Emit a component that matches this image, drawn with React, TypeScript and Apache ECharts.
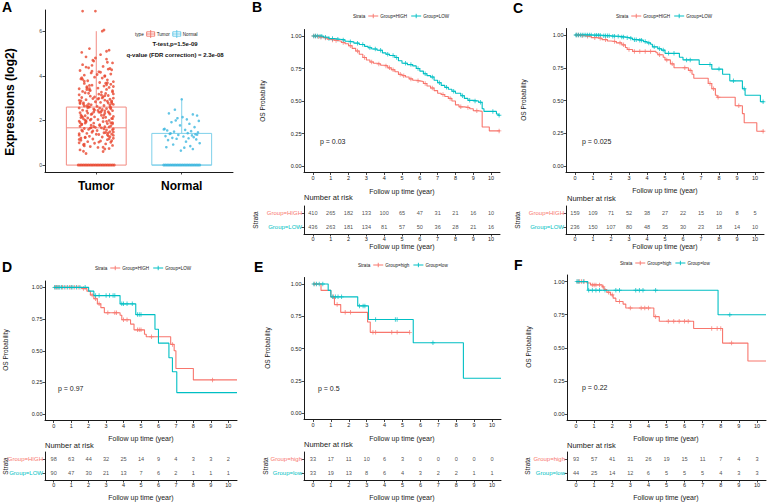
import React, { useEffect, useRef } from "react";
import * as echarts from "echarts";

const FONT = '"Liberation Sans", Arial, sans-serif';
const RED = "#F8766D";
const TEAL = "#00BFC4";
const AXIS = "#1a1a1a";
const PLUS = "path://M4,0H6V10H4Z M0,4H10V6H0Z";

// ---------------- Panel A data ----------------
const boxCategories = ["Tumor", "Normal"];
// min, q1, median, q3, upper whisker
const tumorBox = [0, 0, 1.67, 2.6, 6.0];
const normalBox = [0, 0, 0, 1.42, 2.95];
const exprTicks = [0, 2, 4, 6];

const tumorExpr = [
  0.52, 0.61, 0.68, 0.74, 0.79, 0.83, 0.88, 0.91, 0.95, 0.98, 1.02, 1.05, 1.08, 1.11, 1.14, 1.17, 1.2, 1.23, 1.26, 1.29,
  1.31, 1.34, 1.37, 1.39, 1.42, 1.45, 1.47, 1.5, 1.52, 1.55, 1.57, 1.6, 1.62, 1.64, 1.67, 1.69, 1.72, 1.74, 1.76, 1.79,
  1.81, 1.83, 1.86, 1.88, 1.9, 1.93, 1.95, 1.97, 2.0, 2.02, 2.04, 2.07, 2.09, 2.11, 2.14, 2.16, 2.18, 2.21, 2.23, 2.25,
  2.28, 2.3, 2.32, 2.35, 2.37, 2.39, 2.42, 2.44, 2.46, 2.49, 2.51, 2.53, 2.56, 2.58, 2.6, 2.63, 2.65, 2.67, 2.7, 2.72,
  2.74, 2.77, 2.79, 2.81, 2.84, 2.86, 2.88, 2.91, 2.93, 2.95, 2.98, 3.0, 3.03, 3.06, 3.09, 3.12, 3.15, 3.18, 3.21, 3.24,
  3.27, 3.3, 3.33, 3.36, 3.39, 3.42, 3.45, 3.48, 3.51, 3.54, 3.58, 3.62, 3.66, 3.7, 3.74, 3.78, 3.82, 3.86, 3.9, 3.94,
  3.98, 4.03, 4.08, 4.13, 4.18, 4.24, 4.3, 4.36, 4.42, 4.5, 4.58, 4.66, 4.75, 4.85, 4.95, 5.05, 5.15, 5.22, 6.0, 6.05,
  1.15, 1.48, 1.73, 1.96, 2.19, 2.41, 2.62, 2.83, 1.38, 1.88, 2.34, 2.76, 3.11, 1.58, 2.06, 2.55, 0.86, 1.27, 3.46, 3.69,
  1.03, 1.21, 1.44, 1.66, 1.85, 2.01, 2.24, 2.47, 2.69, 2.9, 3.14, 3.38, 3.6, 3.84, 4.06, 4.27, 4.47, 0.72, 0.94, 1.33,
  1.53, 1.71, 1.91, 2.12, 2.33, 2.52, 2.73, 2.96, 3.19, 3.43, 3.67, 3.91, 4.16, 4.39, 4.61, 4.8, 1.09, 1.41, 1.62, 2.27,
  2.08, 1.98, 1.77, 1.56, 1.36, 2.38, 2.59, 2.8, 3.01, 3.22, 3.52, 3.76, 4.0, 4.21, 1.18, 2.15, 2.45, 2.66, 2.87, 3.34,
  1.25, 1.46, 1.68, 1.9, 2.13, 2.36, 2.57, 2.78, 3.05, 3.28, 0.62, 0.8, 1.0, 5.1, 4.7, 4.33, 3.57, 2.99, 1.82, 2.43,
  6.9, 6.9,
];
const tumorJitter = [
  -0.12, 0.08, -0.19, 0.15, 0.02, -0.07, 0.19, -0.15, 0.11, -0.02, 0.17, -0.1, 0.05, -0.18, 0.13, -0.04, 0.2, -0.13, 0.07, -0.08,
  0.14, -0.2, 0.03, 0.18, -0.11, 0.09, -0.05, 0.16, -0.16, 0.01, 0.12, -0.09, 0.2, -0.14, 0.06, -0.01, 0.1, -0.19, 0.17, -0.06,
  0.04, -0.17, 0.13, -0.03, 0.19, -0.12, 0.08, -0.2, 0.15, -0.07, 0.02, -0.15, 0.18, -0.1, 0.11, -0.02, 0.2, -0.13, 0.06, -0.18,
  0.16, -0.05, 0.1, -0.19, 0.03, 0.14, -0.11, 0.19, -0.16, 0.07, -0.03, 0.12, -0.2, 0.17, -0.08, 0.01, -0.14, 0.09, -0.06, 0.2,
  -0.09, 0.18, -0.15, 0.05, -0.01, 0.13, -0.18, 0.1, -0.12, 0.16, -0.04, 0.2, -0.17, 0.08, -0.07, 0.14, -0.2, 0.03, 0.11, -0.13,
  0.06, -0.16, 0.19, -0.08, 0.12, -0.2, 0.02, 0.15, -0.11, 0.09, -0.05, 0.17, -0.14, 0.04, 0.2, -0.1, 0.13, -0.18, 0.07, -0.02,
  0.1, -0.14, 0.17, -0.06, 0.03, -0.19, 0.14, -0.09, 0.08, -0.16, 0.19, -0.03, 0.12, -0.12, 0.05, -0.17, 0.15, -0.08, 0.07, 0.09,
  -0.2, 0.2, -0.03, 0.12, -0.17, 0.06, -0.09, 0.18, 0.0, -0.13, 0.15, -0.19, 0.1, 0.19, -0.06, 0.04, -0.14, 0.16, -0.11, 0.13,
  0.03, -0.18, 0.14, -0.07, 0.19, -0.13, 0.09, -0.02, 0.16, -0.2, 0.06, -0.11, 0.12, -0.16, 0.01, 0.18, -0.05, 0.1, -0.14, 0.2,
  -0.04, 0.15, -0.19, 0.08, -0.1, 0.17, -0.15, 0.02, 0.2, -0.08, 0.11, -0.17, 0.05, -0.12, 0.13, -0.01, 0.18, -0.2, 0.09, -0.06,
  0.19, -0.12, 0.04, -0.17, 0.13, -0.03, 0.16, -0.19, 0.07, -0.09, 0.2, -0.14, 0.1, -0.05, 0.15, -0.16, 0.02, -0.11, 0.18, -0.07,
  -0.13, 0.11, -0.06, 0.17, -0.18, 0.05, -0.1, 0.14, -0.02, 0.19, -0.15, 0.08, -0.2, 0.12, -0.04, 0.16, -0.08, 0.03, -0.17, 0.1,
  -0.16, -0.01,
];
const tumorZeroJitter = [
  -0.21, -0.19, -0.17, -0.15, -0.13, -0.11, -0.09, -0.07, -0.05, -0.03, -0.01, 0.01, 0.03, 0.05, 0.07, 0.09, 0.11, 0.13, 0.15,
  0.17, 0.19, 0.21,
];
const normalExpr = [
  2.95, 2.48, 2.32, 2.27, 2.22, 2.15, 2.1, 2.05, 1.98, 1.92, 1.85, 1.78, 1.7, 1.62, 1.58, 1.55, 1.52, 1.5, 1.47, 1.43,
  1.4, 1.38, 1.35, 1.33, 1.3, 1.28, 1.25, 1.22, 1.2, 1.18, 1.15, 1.12, 1.05, 0.98, 0.92, 0.85, 0.8, 0.78, 0.72, 0.65,
  1.6, 1.42, 1.36, 2.0,
];
const normalJitter = [
  0.0, -0.08, -0.15, 0.13, 0.18, 0.01, -0.05, 0.06, 0.2, -0.12, 0.09, -0.02, 0.15, -0.2, 0.04, -0.17, 0.11, -0.09, 0.19, 0.07,
  -0.14, 0.16, -0.04, 0.12, -0.19, 0.02, 0.14, -0.11, 0.08, -0.06, 0.17, -0.16, 0.05, 0.21, -0.1, 0.1, -0.18, 0.03, 0.13, -0.01,
  -0.21, -0.13, 0.18, -0.07,
];
const normalZeroJitter = [
  -0.21, -0.19, -0.17, -0.15, -0.13, -0.11, -0.09, -0.07, -0.05, -0.03, -0.01, 0.01, 0.03, 0.05, 0.07, 0.09, 0.11, 0.13, 0.15,
  0.17, 0.19, 0.21,
];

// ---------------- KM panels data ----------------
const yearTicks = [0, 1, 2, 3, 4, 5, 6, 7, 8, 9, 10];
const probTicks = [0, 0.25, 0.5, 0.75, 1];

// Panel B
const bHigh = [[0, 1], [0.2, 0.995], [0.4, 0.99], [0.6, 0.985], [0.8, 0.975], [1.0, 0.97], [1.2, 0.965], [1.4, 0.96], [1.6, 0.95], [1.8, 0.94], [2.0, 0.925], [2.2, 0.905], [2.4, 0.885], [2.6, 0.86], [2.8, 0.835], [3.0, 0.815], [3.2, 0.8], [3.4, 0.79], [3.6, 0.785], [3.8, 0.775], [4.0, 0.77], [4.2, 0.755], [4.4, 0.74], [4.6, 0.725], [4.8, 0.705], [5.0, 0.695], [5.2, 0.685], [5.4, 0.67], [5.6, 0.66], [5.8, 0.655], [6.0, 0.65], [6.2, 0.635], [6.4, 0.615], [6.6, 0.6], [6.8, 0.58], [7.0, 0.56], [7.2, 0.55], [7.4, 0.535], [7.6, 0.52], [7.8, 0.5], [8.0, 0.47], [8.2, 0.455], [8.5, 0.45], [8.8, 0.44], [9.0, 0.425], [9.3, 0.42], [9.5, 0.3], [9.9, 0.27], [10.5, 0.27]];
const bLow = [[0, 1], [0.3, 0.998], [0.6, 0.99], [0.9, 0.98], [1.2, 0.975], [1.5, 0.97], [1.8, 0.96], [2.0, 0.955], [2.3, 0.945], [2.6, 0.935], [2.9, 0.92], [3.1, 0.91], [3.3, 0.9], [3.6, 0.89], [3.9, 0.87], [4.1, 0.86], [4.3, 0.85], [4.6, 0.835], [4.8, 0.81], [5.0, 0.79], [5.3, 0.78], [5.6, 0.77], [5.8, 0.75], [6.0, 0.73], [6.2, 0.71], [6.4, 0.695], [6.6, 0.685], [6.8, 0.66], [7.0, 0.64], [7.2, 0.62], [7.4, 0.605], [7.6, 0.59], [7.8, 0.575], [8.0, 0.56], [8.3, 0.54], [8.5, 0.52], [8.7, 0.505], [9.0, 0.5], [9.3, 0.49], [9.5, 0.44], [9.6, 0.42], [10.3, 0.4], [10.4, 0.39], [10.5, 0.39]];
const bHighCensor = [0.05, 0.15, 0.3, 0.45, 0.7, 1.1, 1.3, 1.7, 2.1, 2.5, 2.9, 3.3, 3.7, 4.1, 4.3, 4.5, 4.9, 5.1, 5.5, 5.9, 6.3, 6.7, 7.3, 7.7, 8.3, 8.7, 9.2, 10.45];
const bLowCensor = [0.05, 0.15, 0.25, 0.4, 0.5, 0.7, 0.9, 1.1, 1.4, 1.7, 2.1, 2.5, 2.8, 3.2, 3.5, 3.8, 4.2, 4.5, 4.7, 5.2, 5.5, 5.9, 6.3, 6.7, 7.1, 7.5, 7.9, 8.4, 8.8, 9.1, 9.4, 10.1, 10.45];
const bRiskHigh = [410, 265, 182, 133, 100, 65, 47, 31, 21, 16, 10];
const bRiskLow = [436, 263, 181, 134, 81, 57, 50, 36, 28, 21, 16];

// Panel C
const cHigh = [[0, 1], [0.3, 0.995], [0.6, 0.99], [0.9, 0.98], [1.2, 0.975], [1.5, 0.965], [1.8, 0.955], [2.0, 0.95], [2.3, 0.94], [2.6, 0.925], [2.8, 0.905], [2.9, 0.89], [3.2, 0.875], [4.5, 0.865], [4.6, 0.85], [4.9, 0.83], [5.0, 0.81], [5.3, 0.78], [5.5, 0.75], [6.3, 0.73], [6.5, 0.7], [6.6, 0.67], [7.4, 0.63], [7.6, 0.59], [7.8, 0.54], [7.9, 0.525], [8.9, 0.46], [9.3, 0.4], [9.4, 0.33], [10.1, 0.265], [10.5, 0.265]];
const cLow = [[0, 1], [1.0, 0.998], [1.5, 0.995], [2.0, 0.99], [2.5, 0.985], [2.8, 0.98], [3.0, 0.975], [3.2, 0.965], [3.5, 0.96], [3.8, 0.95], [4.0, 0.94], [4.2, 0.93], [4.3, 0.91], [4.6, 0.895], [4.8, 0.885], [5.0, 0.86], [5.8, 0.83], [6.0, 0.81], [6.9, 0.775], [7.6, 0.74], [8.2, 0.7], [8.6, 0.65], [9.3, 0.59], [9.45, 0.54], [10.3, 0.49], [10.5, 0.49]];
const cHighCensor = [0.1, 0.2, 0.4, 0.7, 1.1, 1.4, 1.7, 2.2, 2.5, 2.7, 3.0, 3.3, 3.6, 3.9, 4.2, 4.7, 5.1, 5.4, 6.1, 6.4, 7.5, 7.7, 7.95, 9.1, 10.45];
const cLowCensor = [0.05, 0.1, 0.2, 0.3, 0.4, 0.5, 0.6, 0.7, 0.8, 0.9, 1.1, 1.2, 1.3, 1.4, 1.6, 1.7, 1.8, 1.9, 2.1, 2.2, 2.4, 2.6, 2.7, 2.9, 3.1, 3.3, 3.4, 3.6, 3.7, 3.9, 4.1, 4.4, 4.7, 4.9, 5.2, 5.5, 6.2, 6.4, 7.5, 8.0, 8.8, 9.4, 10.45];
const cRiskHigh = [159, 109, 71, 52, 38, 27, 22, 15, 10, 8, 5];
const cRiskLow = [236, 150, 107, 80, 48, 35, 30, 23, 18, 14, 10];

// Panel D
const dHigh = [[0, 1], [1.6, 0.99], [1.9, 0.97], [2.1, 0.94], [2.3, 0.91], [2.5, 0.87], [2.7, 0.84], [2.9, 0.8], [3.8, 0.78], [3.9, 0.745], [4.4, 0.71], [4.6, 0.665], [5.2, 0.63], [5.3, 0.61], [6.7, 0.55], [6.9, 0.5], [7.0, 0.36], [8.0, 0.27], [10.5, 0.27]];
const dLow = [[0, 1], [2.0, 0.97], [2.3, 0.935], [3.8, 0.87], [4.7, 0.785], [5.8, 0.67], [6.0, 0.56], [6.6, 0.445], [6.8, 0.335], [7.05, 0.17], [10.5, 0.17]];
const dHighCensor = [0.1, 0.2, 0.3, 0.5, 0.7, 0.9, 1.0, 1.2, 1.4, 1.7, 2.2, 2.4, 2.6, 3.1, 3.5, 3.6, 4.0, 4.2, 4.8, 4.9, 5.0, 5.6, 6.8, 9.1];
const dLowCensor = [0.05, 0.15, 0.25, 0.35, 0.45, 0.6, 0.8, 1.0, 1.1, 1.3, 1.5, 1.8, 2.4, 2.6, 3.0, 3.2, 3.4, 3.5, 3.9, 4.0, 4.2, 4.5, 4.8, 4.9, 5.0];
const dRiskHigh = [98, 63, 44, 32, 25, 14, 9, 4, 3, 3, 2];
const dRiskLow = [90, 47, 30, 21, 13, 7, 6, 2, 1, 1, 1];

// Panel E
const eHigh = [[0, 1], [0.45, 0.95], [1.0, 0.9], [1.2, 0.84], [1.55, 0.78], [3.05, 0.705], [3.2, 0.625], [5.4, 0.625]];
const eLow = [[0, 1], [0.85, 0.95], [1.0, 0.9], [2.5, 0.83], [3.1, 0.725], [5.6, 0.545], [8.4, 0.27], [10.5, 0.27]];
const eHighCensor = [0.1, 1.15, 1.35, 1.8, 2.1, 3.35, 3.5, 4.4, 4.7, 5.4];
const eLowCensor = [0.05, 0.2, 0.35, 0.55, 1.1, 1.25, 1.4, 1.6, 2.6, 2.8, 2.9, 3.5, 4.6, 4.7, 6.7];
const eRiskHigh = [33, 17, 11, 10, 6, 3, 0, 0, 0, 0, 0];
const eRiskLow = [33, 19, 13, 8, 6, 4, 3, 2, 2, 1, 1];

// Panel F
const fHigh = [[0, 1], [0.6, 0.99], [0.8, 0.975], [1.45, 0.96], [1.55, 0.94], [1.7, 0.92], [1.9, 0.9], [2.05, 0.875], [2.2, 0.85], [2.6, 0.83], [2.75, 0.8], [4.3, 0.735], [4.6, 0.7], [6.5, 0.645], [8.1, 0.535], [9.5, 0.4], [10.5, 0.4]];
const fLow = [[0, 1], [0.65, 0.935], [7.85, 0.75], [10.5, 0.75]];
const fHighCensor = [0.1, 0.2, 0.3, 0.45, 0.9, 1.0, 1.1, 1.3, 1.5, 1.8, 2.0, 2.4, 3.0, 3.6, 3.8, 4.0, 4.4, 5.1, 5.4, 5.7, 6.0, 6.2, 7.5, 7.8, 8.0, 8.6];
const fLowCensor = [0.05, 0.15, 0.4, 0.7, 0.9, 1.1, 1.3, 1.6, 2.2, 2.4, 3.3, 3.5, 3.7, 4.4, 8.5];
const fRiskHigh = [93, 57, 41, 31, 26, 19, 15, 11, 7, 4, 3];
const fRiskLow = [44, 25, 14, 12, 6, 5, 5, 5, 4, 3, 3];

// ---------------- layout (positions only) ----------------
const panels = [
  {
    letter: "B", letterPos: [252, 7], names: ["Group=HIGH", "Group=LOW"], p: "p = 0.03",
    high: bHigh, low: bLow, hc: bHighCensor, lc: bLowCensor, rh: bRiskHigh, rl: bRiskLow,
    km: [304, 29.5, 196, 143], tb: [304, 206, 196, 28],
    ylab: [262, 101], xlab: [402, 191], nar: [304, 197], strata: [255, 220], txlab: [402, 246], legend: [353, 16], pPos: [320, 141],
  },
  {
    letter: "C", letterPos: [513, 8], names: ["Group=HIGH", "Group=LOW"], p: "p = 0.025",
    high: cHigh, low: cLow, hc: cHighCensor, lc: cLowCensor, rh: cRiskHigh, rl: cRiskLow,
    km: [566, 28.5, 198, 144], tb: [566, 206, 198, 28],
    ylab: [523, 100], xlab: [665, 190], nar: [567, 198], strata: [517, 220], txlab: [665, 246], legend: [616, 16], pPos: [582, 141],
  },
  {
    letter: "D", letterPos: [2, 267], names: ["Group=HIGH", "Group=LOW"], p: "p = 0.97",
    high: dHigh, low: dLow, hc: dHighCensor, lc: dLowCensor, rh: dRiskHigh, rl: dRiskLow,
    km: [45, 281, 192, 139.5], tb: [45, 452, 192, 28],
    ylab: [5, 350], xlab: [141, 438], nar: [45, 445], strata: [5, 466], txlab: [141, 497], legend: [95, 268], pPos: [58, 388],
  },
  {
    letter: "E", letterPos: [254, 267], names: ["Group=high", "Group=low"], p: "p = 0.5",
    high: eHigh, low: eLow, hc: eHighCensor, lc: eLowCensor, rh: eRiskHigh, rl: eRiskLow,
    km: [304, 277.5, 197, 142], tb: [304, 452, 197, 28],
    ylab: [267, 348], xlab: [402, 438], nar: [304, 444], strata: [265, 466], txlab: [402, 497], legend: [358, 265], pPos: [318, 388],
  },
  {
    letter: "F", letterPos: [514, 265], names: ["Group=high", "Group=low"], p: "p = 0.22",
    high: fHigh, low: fLow, hc: fHighCensor, lc: fLowCensor, rh: fRiskHigh, rl: fRiskLow,
    km: [567, 275, 199, 145.5], tb: [567, 452, 199, 28],
    ylab: [528, 347], xlab: [666, 438], nar: [567, 445], strata: [527, 466], txlab: [666, 497], legend: [620, 263], pPos: [582, 387],
  },
];

// ---------------- helpers ----------------
let measureCtx: CanvasRenderingContext2D | null = null;
function textW(s: string, size: number, weight = "normal") {
  if (!measureCtx && typeof document !== "undefined") {
    measureCtx = document.createElement("canvas").getContext("2d");
  }
  if (!measureCtx) return s.length * size * 0.55;
  measureCtx.font = `${weight} ${size}px "Liberation Sans", Arial, sans-serif`;
  return measureCtx.measureText(s).width;
}

function T(x: number, y: number, text: string, size: number, o: any = {}) {
  return {
    type: "text",
    x,
    y,
    rotation: o.rotation || 0,
    silent: true,
    style: {
      text,
      fontSize: size,
      fontFamily: FONT,
      fontWeight: o.weight || "normal",
      fill: o.color || "#1a1a1a",
      align: o.align || "center",
      verticalAlign: o.va || "middle",
    },
  };
}

function survAt(curve: number[][], t: number) {
  let s = 1;
  for (const [tt, v] of curve) {
    if (tt <= t) s = v;
    else break;
  }
  return s;
}

function kmLegend(x0: number, y: number, names: string[]) {
  const els: any[] = [];
  const fs = 4.6;
  els.push(T(x0, y, "Strata", fs, { align: "left" }));
  let x = x0 + textW("Strata", fs) + 3;
  const items: [string, string][] = [[names[0], RED], [names[1], TEAL]];
  items.forEach(([n, c]) => {
    els.push({ type: "line", silent: true, shape: { x1: x, y1: y, x2: x + 10, y2: y }, style: { stroke: c, lineWidth: 1 } });
    els.push({ type: "line", silent: true, shape: { x1: x + 5, y1: y - 2.2, x2: x + 5, y2: y + 2.2 }, style: { stroke: c, lineWidth: 0.9 } });
    els.push(T(x + 12, y, n, fs, { align: "left" }));
    x += 12 + textW(n, fs) + 4;
  });
  return els;
}

function boxGlyph(cx: number, cy: number, c: string) {
  return [
    { type: "rect", silent: true, shape: { x: cx - 4, y: cy - 2.2, width: 8, height: 4.4 }, style: { fill: "none", stroke: c, lineWidth: 0.8 } },
    { type: "line", silent: true, shape: { x1: cx - 4, y1: cy, x2: cx + 4, y2: cy }, style: { stroke: c, lineWidth: 0.8 } },
    { type: "line", silent: true, shape: { x1: cx, y1: cy - 4, x2: cx, y2: cy + 4 }, style: { stroke: c, lineWidth: 0.8 } },
  ];
}

function valueAxis(gi: number, min: number, max: number, ticks: number[], fmt?: (v: number) => string, extra: any = {}) {
  return {
    gridIndex: gi,
    type: "value",
    min,
    max,
    splitLine: { show: false },
    axisLine: { show: true, onZero: false, lineStyle: { color: AXIS, width: 1 } },
    axisTick: { show: true, customValues: ticks, length: 2.5, lineStyle: { color: AXIS, width: 0.8 } },
    axisLabel: {
      show: true,
      customValues: ticks,
      formatter: fmt || ((v: number) => String(v)),
      fontSize: 5.5,
      color: "#222",
      margin: 2.5,
      fontFamily: FONT,
      ...(extra.axisLabel || {}),
    },
  };
}

function buildOption() {
  const grids: any[] = [];
  const xAxes: any[] = [];
  const yAxes: any[] = [];
  const series: any[] = [];
  const graphics: any[] = [];

  // ---------- Panel A ----------
  grids.push({ left: 45, top: 10, width: 188, height: 162, outerBoundsMode: "none" });
  xAxes.push(
    valueAxis(0, -0.6, 1.6, [0, 1], (v: number) => boxCategories[Math.round(v)] ?? "", {
      axisLabel: { fontSize: 12, fontWeight: "bold", color: "#000", margin: 8 },
    })
  );
  yAxes.push(valueAxis(0, -0.31, 6.95, exprTicks, (v: number) => String(v), { axisLabel: { fontSize: 5, color: "#444", margin: 3 } }));

  const boxColors = ["#F28B82", "#7FD0EA"];
  series.push({
    type: "custom",
    xAxisIndex: 0,
    yAxisIndex: 0,
    silent: true,
    data: [[0, ...tumorBox], [1, ...normalBox]],
    renderItem: (params: any, api: any) => {
      const x = api.value(0);
      const mn = api.value(1), q1 = api.value(2), md = api.value(3), q3 = api.value(4), mx = api.value(5);
      const tl = api.coord([x - 0.35, q3]);
      const br = api.coord([x + 0.35, q1]);
      const mid = api.coord([x, md]);
      const top = api.coord([x, mx]);
      const bot = api.coord([x, mn]);
      const c = boxColors[params.dataIndex];
      return {
        type: "group",
        children: [
          { type: "line", shape: { x1: top[0], y1: top[1], x2: top[0], y2: tl[1] }, style: { stroke: c, lineWidth: 1 } },
          { type: "line", shape: { x1: bot[0], y1: br[1], x2: bot[0], y2: bot[1] }, style: { stroke: c, lineWidth: 1 } },
          { type: "rect", shape: { x: tl[0], y: tl[1], width: br[0] - tl[0], height: br[1] - tl[1] }, style: { fill: "none", stroke: c, lineWidth: 1 } },
          { type: "line", shape: { x1: tl[0], y1: mid[1], x2: br[0], y2: mid[1] }, style: { stroke: c, lineWidth: 1 } },
        ],
      };
    },
  });
  const tumorPts = tumorExpr.map((v, i) => [tumorJitter[i] ?? 0, v]);
  const normalPts = normalExpr.map((v, i) => [1 + (normalJitter[i] ?? 0), v]);
  series.push({ type: "scatter", xAxisIndex: 0, yAxisIndex: 0, silent: true, symbolSize: 2.8, itemStyle: { color: "#E8472F" }, data: tumorPts });
  series.push({ type: "scatter", xAxisIndex: 0, yAxisIndex: 0, silent: true, symbolSize: 3, itemStyle: { color: "#E8472F" }, data: tumorZeroJitter.map((j) => [j, 0]) });
  series.push({ type: "scatter", xAxisIndex: 0, yAxisIndex: 0, silent: true, symbolSize: 2.6, itemStyle: { color: "#3DB6DF" }, data: normalPts });
  series.push({ type: "scatter", xAxisIndex: 0, yAxisIndex: 0, silent: true, symbolSize: 3, itemStyle: { color: "#3DB6DF" }, data: normalZeroJitter.map((j) => [1 + j, 0]) });

  graphics.push(T(2, 6.5, "A", 14, { weight: "bold", align: "left", color: "#000" }));
  graphics.push(T(10, 102, "Expressions (log2)", 12, { weight: "bold", rotation: Math.PI / 2, color: "#000" }));
  // legend A
  {
    const fs = 4.6, y = 34;
    let x = 135;
    graphics.push(T(x, y, "type", fs, { align: "left" }));
    x += textW("type", fs) + 7;
    graphics.push(...boxGlyph(x, y, "#F0685A"));
    graphics.push(T(x + 6, y, "Tumor", fs, { align: "left" }));
    x += 6 + textW("Tumor", fs) + 7;
    graphics.push(...boxGlyph(x, y, "#4CC0E4"));
    graphics.push(T(x + 6, y, "Normal", fs, { align: "left" }));
  }
  graphics.push(T(175, 44, "T-test,p=1.5e-09", 6, { weight: "bold", color: "#111" }));
  graphics.push(T(175, 54.5, "q-value (FDR correction) = 2.3e-08", 6, { weight: "bold", color: "#111" }));

  // ---------- KM panels ----------
  const yfmt = (v: number) => v.toFixed(2);
  panels.forEach((p) => {
    const gi = grids.length;
    grids.push({ left: p.km[0], top: p.km[1], width: p.km[2], height: p.km[3], outerBoundsMode: "none" });
    xAxes.push(valueAxis(gi, -0.5, 10.5, yearTicks));
    yAxes.push(valueAxis(gi, -0.05, 1.05, probTicks, yfmt));

    const curves: [number[][], number[], string][] = [[p.high, p.hc, RED], [p.low, p.lc, TEAL]];
    curves.forEach(([curve, cens, color]) => {
      series.push({
        type: "line",
        xAxisIndex: gi,
        yAxisIndex: gi,
        silent: true,
        step: "end",
        symbol: "none",
        showSymbol: false,
        lineStyle: { color, width: 1.1 },
        itemStyle: { color },
        data: curve,
      });
      series.push({
        type: "scatter",
        xAxisIndex: gi,
        yAxisIndex: gi,
        silent: true,
        symbol: PLUS,
        symbolSize: 4.5,
        itemStyle: { color },
        data: cens.map((t) => [t, survAt(curve, t)]),
      });
    });

    const ti = grids.length;
    grids.push({ left: p.tb[0], top: p.tb[1], width: p.tb[2], height: p.tb[3], outerBoundsMode: "none" });
    xAxes.push(valueAxis(ti, -0.5, 10.5, yearTicks, undefined, { axisLabel: { margin: 2 } }));
    yAxes.push({
      gridIndex: ti,
      type: "category",
      data: p.names,
      inverse: true,
      axisLine: { show: true, onZero: false, lineStyle: { color: AXIS, width: 1 } },
      axisTick: { show: true, alignWithLabel: true, length: 2.5, lineStyle: { color: AXIS, width: 0.8 } },
      axisLabel: {
        fontSize: 6,
        margin: 2,
        fontFamily: FONT,
        color: (v: string) => (v === p.names[0] ? RED : TEAL),
      },
      splitLine: { show: false },
    });
    const rows: [number[], number][] = [[p.rh, 0], [p.rl, 1]];
    rows.forEach(([vals, row]) => {
      series.push({
        type: "scatter",
        xAxisIndex: ti,
        yAxisIndex: ti,
        silent: true,
        symbolSize: 1,
        itemStyle: { color: "transparent" },
        label: {
          show: true,
          position: "inside",
          formatter: (q: any) => String(q.value[2]),
          fontSize: 5.6,
          color: "#1a1a1a",
          fontFamily: FONT,
        },
        data: vals.map((v, j) => [yearTicks[j], row, v]),
      });
    });

    graphics.push(T(p.letterPos[0], p.letterPos[1], p.letter, 14, { weight: "bold", align: "left", color: "#000" }));
    graphics.push(T(p.ylab[0], p.ylab[1], "OS Probability", 6.5, { rotation: Math.PI / 2 }));
    graphics.push(T(p.xlab[0], p.xlab[1], "Follow up time (year)", 7));
    graphics.push(T(p.nar[0], p.nar[1], "Number at risk", 7.5, { align: "left" }));
    graphics.push(T(p.strata[0], p.strata[1], "Strata", 6.5, { rotation: Math.PI / 2 }));
    graphics.push(T(p.txlab[0], p.txlab[1], "Follow up time (year)", 7));
    graphics.push(T(p.pPos[0], p.pPos[1], p.p, 7, { align: "left" }));
    graphics.push(...kmLegend(p.legend[0], p.legend[1], p.names));
  });

  return {
    animation: false,
    backgroundColor: "#ffffff",
    textStyle: { fontFamily: FONT },
    grid: grids,
    xAxis: xAxes,
    yAxis: yAxes,
    series,
    graphic: { elements: graphics },
  };
}

export default function App() {
  const ref = useRef<HTMLDivElement>(null);
  useEffect(() => {
    document.body.style.margin = "0";
    const chart = echarts.init(ref.current!, null, { renderer: "svg" });
    chart.setOption(buildOption() as any);
    return () => chart.dispose();
  }, []);
  return <div ref={ref} style={{ width: 768, height: 502, background: "#fff" }} />;
}
